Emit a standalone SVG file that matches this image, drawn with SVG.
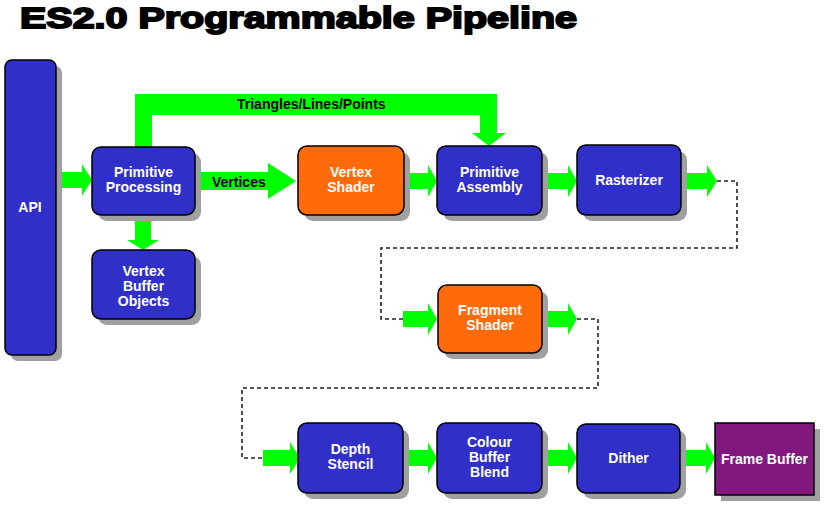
<svg xmlns="http://www.w3.org/2000/svg" width="825" height="506" viewBox="0 0 825 506">
<defs>
<style>
.box{stroke:#000;stroke-width:1.5}
.blue{fill:#3030C8}
.orange{fill:#FF6A0A}
.purple{fill:#801880}
.shadow{fill:#A0A0A0}
.arrow{fill:#00FF00}
.dash{fill:none;stroke:#222;stroke-width:1.6;stroke-dasharray:4 3}
.lbl{font-family:"Liberation Sans",Arial,sans-serif;font-weight:bold;font-size:14px;fill:#fff;text-anchor:middle}
.dark{font-family:"Liberation Sans",Arial,sans-serif;font-weight:bold;font-size:14px;fill:#000}
.title{font-family:"Liberation Sans",Arial,sans-serif;font-weight:900;font-size:29px;fill:#000;stroke:#000;stroke-width:1.8}
</style>
</defs>
<rect width="825" height="506" fill="#fff"/>
<text class="title" x="20" y="28" textLength="557" lengthAdjust="spacingAndGlyphs">ES2.0 Programmable Pipeline</text>

<g id="connectors">
<polygon class="arrow" points="56,172 82,172 82,164 92,180 82,196 82,188 56,188"/>
<polygon class="arrow" points="135,147 135,94 497,94 497,133 506,133 489,146 472,133 480,133 480,115 152,115 152,147"/>
<polygon class="arrow" points="135,215 151,215 151,240 159,240 143,250 127,240 135,240"/>
<polygon class="arrow" points="195,172 268,172 268,163 296,181 268,199 268,190 195,190"/>
<polygon class="arrow" points="404,173 428,173 428,165 437,181 428,197 428,189 404,189"/>
<polygon class="arrow" points="542,173 568,173 568,165 577,181 568,197 568,189 542,189"/>
<polygon class="arrow" points="681,173 707,173 707,165 717,181 707,197 707,189 681,189"/>
<path class="dash" d="M717,181 H737 V248 H381 V319 H403"/>
<polygon class="arrow" points="403,311 428,311 428,303 437,319 428,335 428,327 403,327"/>
<polygon class="arrow" points="542,311 568,311 568,303 577,319 568,335 568,327 542,327"/>
<path class="dash" d="M577,319 H598 V388 H242 V458 H263"/>
<polygon class="arrow" points="263,450 290,450 290,442 300,458 290,474 290,466 263,466"/>
<polygon class="arrow" points="403,450 428,450 428,442 437,458 428,474 428,466 403,466"/>
<polygon class="arrow" points="542,450 568,450 568,442 577,458 568,474 568,466 542,466"/>
<polygon class="arrow" points="680,450 706,450 706,442 715,458 706,474 706,466 680,466"/>
<text class="dark" x="237" y="109">Triangles/Lines/Points</text>
<text class="dark" x="212" y="187">Vertices</text>
</g>

<g id="api">
<rect class="shadow" x="11" y="66" width="51" height="295" rx="7"/>
<rect class="box blue" x="5" y="60" width="51" height="295" rx="7"/>
<text class="lbl" x="30" y="212">API</text>
</g>
<g id="primitive-processing">
<rect class="shadow" x="98" y="153" width="103" height="68" rx="9"/>
<rect class="box blue" x="92" y="147" width="103" height="68" rx="9"/>
<text class="lbl" x="143.5" y="177">Primitive</text>
<text class="lbl" x="143.5" y="192">Processing</text>
</g>
<g id="vertex-buffer-objects">
<rect class="shadow" x="98" y="256" width="103" height="69" rx="9"/>
<rect class="box blue" x="92" y="250" width="103" height="69" rx="9"/>
<text class="lbl" x="143.5" y="276">Vertex</text>
<text class="lbl" x="143.5" y="291">Buffer</text>
<text class="lbl" x="143.5" y="306">Objects</text>
</g>
<g id="vertex-shader">
<rect class="shadow" x="304" y="152" width="106" height="69" rx="9"/>
<rect class="box orange" x="298" y="146" width="106" height="69" rx="9"/>
<text class="lbl" x="351" y="177">Vertex</text>
<text class="lbl" x="351" y="192">Shader</text>
</g>
<g id="primitive-assembly">
<rect class="shadow" x="443" y="152" width="105" height="69" rx="9"/>
<rect class="box blue" x="437" y="146" width="105" height="69" rx="9"/>
<text class="lbl" x="489.5" y="177">Primitive</text>
<text class="lbl" x="489.5" y="192">Assembly</text>
</g>
<g id="rasterizer">
<rect class="shadow" x="583" y="151" width="104" height="70" rx="9"/>
<rect class="box blue" x="577" y="145" width="104" height="70" rx="9"/>
<text class="lbl" x="629" y="185">Rasterizer</text>
</g>
<g id="fragment-shader">
<rect class="shadow" x="444" y="291" width="104" height="68" rx="9"/>
<rect class="box orange" x="438" y="285" width="104" height="68" rx="9"/>
<text class="lbl" x="490" y="315">Fragment</text>
<text class="lbl" x="490" y="330">Shader</text>
</g>
<g id="depth-stencil">
<rect class="shadow" x="304" y="429" width="105" height="70" rx="9"/>
<rect class="box blue" x="298" y="423" width="105" height="70" rx="9"/>
<text class="lbl" x="350.5" y="454">Depth</text>
<text class="lbl" x="350.5" y="469">Stencil</text>
</g>
<g id="colour-buffer-blend">
<rect class="shadow" x="443" y="429" width="105" height="70" rx="9"/>
<rect class="box blue" x="437" y="423" width="105" height="70" rx="9"/>
<text class="lbl" x="489.5" y="447">Colour</text>
<text class="lbl" x="489.5" y="462">Buffer</text>
<text class="lbl" x="489.5" y="477">Blend</text>
</g>
<g id="dither">
<rect class="shadow" x="583" y="430" width="103" height="69" rx="9"/>
<rect class="box blue" x="577" y="424" width="103" height="69" rx="9"/>
<text class="lbl" x="628.5" y="463">Dither</text>
</g>
<g id="frame-buffer">
<rect class="shadow" x="721" y="429" width="99" height="72"/>
<rect class="box purple" x="715" y="423" width="99" height="72"/>
<text class="lbl" x="764.5" y="464">Frame Buffer</text>
</g>
</svg>
